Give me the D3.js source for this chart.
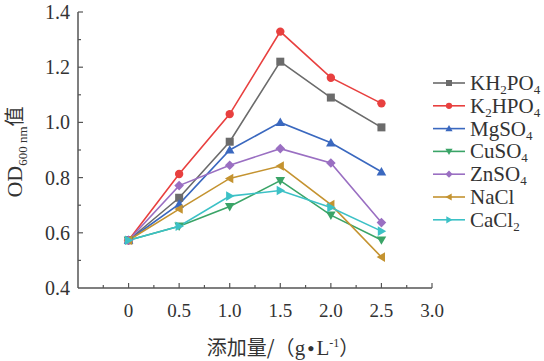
<!DOCTYPE html>
<html>
<head>
<meta charset="utf-8">
<script src="https://cdn.jsdelivr.net/npm/d3@7"></script>
<style>
  body { margin: 0; background: #fff; }
  text { font-family: "Liberation Serif", "Times New Roman", serif; fill: #333; }
  .cjk { font-family: "Noto Sans CJK SC", sans-serif; }
</style>
</head>
<body>
<div id="chart"></div>
<script>
var doses = [0, 0.5, 1.0, 1.5, 2.0, 2.5];
var xTicks = [0, 0.5, 1.0, 1.5, 2.0, 2.5, 3.0];
var yTicks = [0.4, 0.6, 0.8, 1.0, 1.2, 1.4];

var kh2po4 = [0.573, 0.727, 0.930, 1.220, 1.090, 0.982];
var k2hpo4 = [0.573, 0.813, 1.030, 1.329, 1.162, 1.069];
var mgso4  = [0.573, 0.704, 0.900, 1.000, 0.926, 0.821];
var cuso4  = [0.573, 0.624, 0.695, 0.789, 0.664, 0.574];
var znso4  = [0.573, 0.771, 0.845, 0.905, 0.853, 0.637];
var nacl   = [0.573, 0.686, 0.797, 0.842, 0.702, 0.512];
var cacl2  = [0.573, 0.624, 0.733, 0.753, 0.692, 0.606];

var series = [
  { name: ["KH", "2", "PO", "4"], values: kh2po4, color: "#6b6b6b", shape: "square" },
  { name: ["K", "2", "HPO", "4"], values: k2hpo4, color: "#e8403f", shape: "circle" },
  { name: ["MgSO", "4"], values: mgso4, color: "#3a68bf", shape: "up" },
  { name: ["CuSO", "4"], values: cuso4, color: "#3aa467", shape: "down" },
  { name: ["ZnSO", "4"], values: znso4, color: "#9a6fc2", shape: "diamond" },
  { name: ["NaCl"], values: nacl, color: "#c49330", shape: "left" },
  { name: ["CaCl", "2"], values: cacl2, color: "#3cc1c6", shape: "right" }
];

var svg = d3.select("#chart").append("svg")
  .attr("width", 544).attr("height", 361);

var x = d3.scaleLinear().domain([-0.5, 3.0]).range([78, 432]);
var y = d3.scaleLinear().domain([0.4, 1.4]).range([288, 12]);

// marker paths
function marker(shape, s) {
  var h = s / 2;
  if (shape == "square") return "M" + (-h) + "," + (-h) + "h" + s + "v" + s + "h" + (-s) + "Z";
  if (shape == "circle") return d3.symbol(d3.symbolCircle, Math.PI * h * h * 1.1)();
  if (shape == "diamond") return "M0," + (-h * 1.2) + "L" + (h * 1.2) + ",0L0," + (h * 1.2) + "L" + (-h * 1.2) + ",0Z";
  var t = h * 1.2;
  if (shape == "up") return "M0," + (-t) + "L" + t + "," + (t * 0.75) + "L" + (-t) + "," + (t * 0.75) + "Z";
  if (shape == "down") return "M0," + t + "L" + t + "," + (-t * 0.75) + "L" + (-t) + "," + (-t * 0.75) + "Z";
  if (shape == "left") return "M" + (-t) + ",0L" + (t * 0.75) + "," + (-t) + "L" + (t * 0.75) + "," + t + "Z";
  if (shape == "right") return "M" + t + ",0L" + (-t * 0.75) + "," + (-t) + "L" + (-t * 0.75) + "," + t + "Z";
}

// axes
var axisColor = "#555";
svg.append("line").attr("x1", 78).attr("x2", 432).attr("y1", 288).attr("y2", 288)
  .attr("stroke", axisColor).attr("stroke-width", 1.5);
svg.append("line").attr("x1", 78).attr("x2", 78).attr("y1", 12).attr("y2", 288)
  .attr("stroke", axisColor).attr("stroke-width", 1.5);

var xMinor = d3.range(-0.25, 3.01, 0.25);
svg.selectAll(".xtick").data(xMinor).enter().append("line")
  .attr("x1", function(d) { return x(d) }).attr("x2", function(d) { return x(d) })
  .attr("y1", 288).attr("y2", function(d) { return Math.abs(d * 2 - Math.round(d * 2)) < 0.01 ? 283 : 285 })
  .attr("stroke", axisColor).attr("stroke-width", 1.2);

var yMinor = d3.range(0.5, 1.41, 0.1);
svg.selectAll(".ytick").data(yMinor).enter().append("line")
  .attr("y1", function(d) { return y(d) }).attr("y2", function(d) { return y(d) })
  .attr("x1", 78).attr("x2", function(d) { return Math.abs(d * 5 - Math.round(d * 5)) < 0.01 ? 83 : 81 })
  .attr("stroke", axisColor).attr("stroke-width", 1.2);

svg.selectAll(".xlab").data(xTicks).enter().append("text")
  .attr("x", function(d) { return x(d) }).attr("y", 317)
  .attr("text-anchor", "middle").attr("font-size", 19)
  .text(function(d) { return d == 0 ? "0" : d.toFixed(1) });

svg.selectAll(".ylab").data(yTicks).enter().append("text")
  .attr("x", 70).attr("y", function(d) { return y(d) + 7 })
  .attr("text-anchor", "end").attr("font-size", 20)
  .text(function(d) { return d.toFixed(1) });

// axis titles
var xt = svg.append("text").attr("x", 283).attr("y", 355).attr("text-anchor", "middle").attr("font-size", 21);
xt.append("tspan").attr("class", "cjk").attr("font-size", 20).text("添加量/（");
xt.append("tspan").text("g");
xt.append("tspan").attr("font-size", 12).attr("dx", 2).attr("dy", -3).text("●");
xt.append("tspan").attr("dx", 2).attr("dy", 3).text("L");
xt.append("tspan").attr("font-size", 12).attr("dy", -8).text("-1");
xt.append("tspan").attr("class", "cjk").attr("font-size", 20).attr("dy", 8).text("）");

var yt = svg.append("text").attr("transform", "translate(22,152) rotate(-90)")
  .attr("text-anchor", "middle").attr("font-size", 22);
yt.append("tspan").text("OD");
yt.append("tspan").attr("font-size", 13).attr("dy", 5).text("600 nm");
yt.append("tspan").attr("class", "cjk").attr("font-size", 20).attr("dy", -5).text("值");

// lines and markers
var line = d3.line()
  .x(function(d, i) { return x(doses[i]) })
  .y(function(d) { return y(d) });

series.forEach(function(s) {
  svg.append("path").attr("d", line(s.values))
    .attr("fill", "none").attr("stroke", s.color).attr("stroke-width", 1.6);
});
series.forEach(function(s) {
  svg.selectAll(null).data(s.values).enter().append("path")
    .attr("d", marker(s.shape, 8))
    .attr("transform", function(d, i) { return "translate(" + x(doses[i]) + "," + y(d) + ")" })
    .attr("fill", s.color);
});

// legend
var legend = svg.append("g");
series.forEach(function(s, i) {
  var ly = 83 + i * 22.8;
  legend.append("line").attr("x1", 433).attr("x2", 465).attr("y1", ly).attr("y2", ly)
    .attr("stroke", s.color).attr("stroke-width", 1.6);
  legend.append("path").attr("d", marker(s.shape, 6))
    .attr("transform", "translate(449," + ly + ")").attr("fill", s.color);
  var t = legend.append("text").attr("x", 470).attr("y", ly + 7).attr("font-size", 21);
  s.name.forEach(function(part, j) {
    if (j % 2 == 0) {
      t.append("tspan").attr("font-size", 21).attr("dy", j == 0 ? 0 : -4).text(part);
    } else {
      t.append("tspan").attr("font-size", 13).attr("dy", 4).text(part);
    }
  });
});
</script>
</body>
</html>
